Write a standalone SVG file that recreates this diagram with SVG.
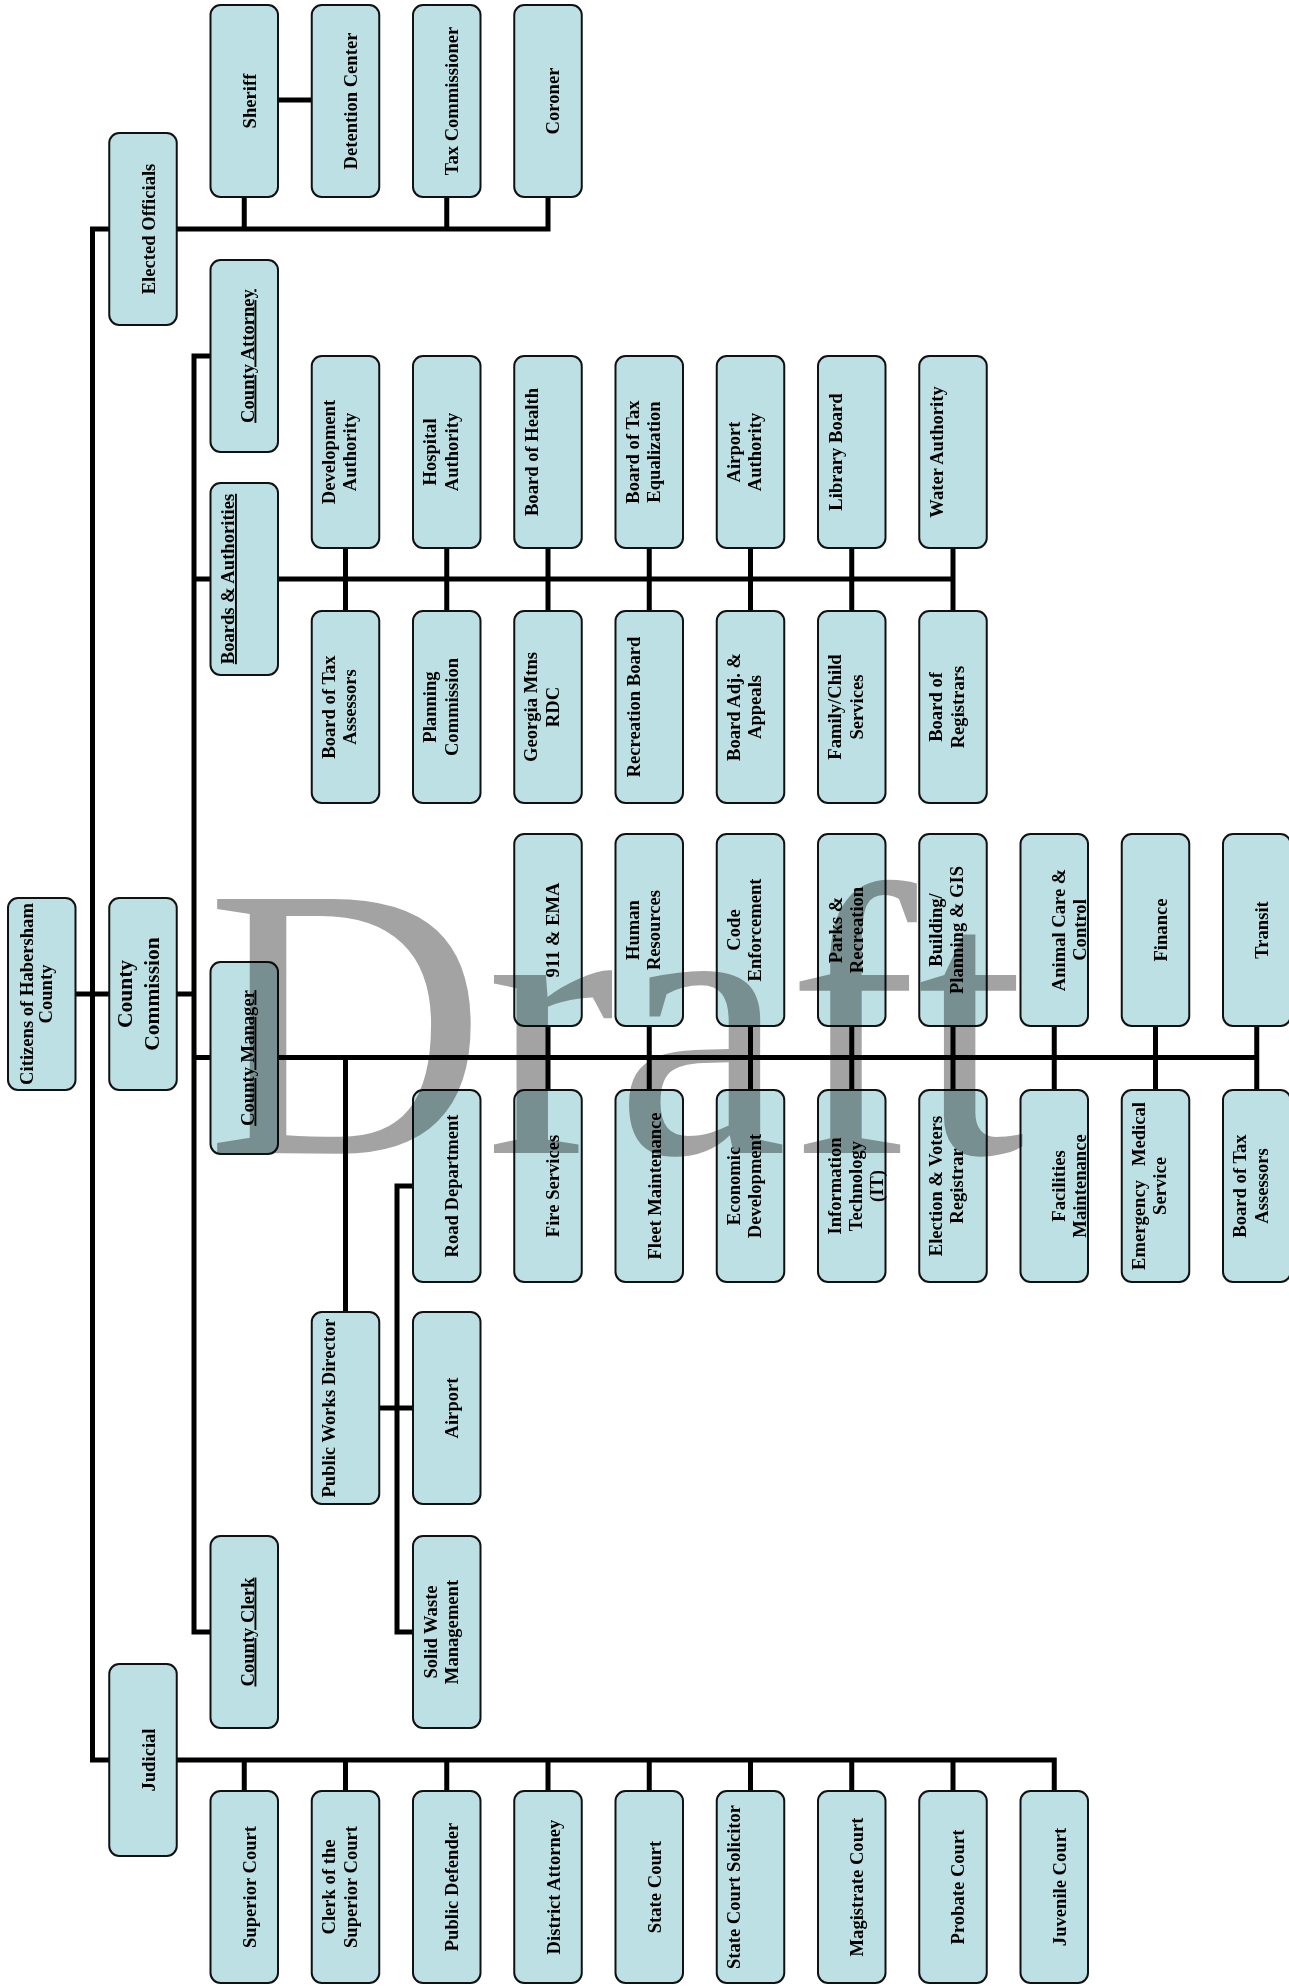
<svg xmlns="http://www.w3.org/2000/svg" width="1289" height="1986" viewBox="0 0 1289 1986">
<style>
.box{fill:#bce0e3;stroke:#111;stroke-width:2}
.t{font-family:"Liberation Serif","Times New Roman",serif;font-weight:bold;font-size:18.6px;text-anchor:middle;fill:#000}
.u{text-decoration:underline}
.ln{fill:none;stroke:#000;stroke-width:5;stroke-linejoin:miter;stroke-linecap:butt}
.wm{font-family:"Liberation Serif","Times New Roman",serif;font-size:388px;fill:#a3a3a3;mix-blend-mode:multiply}
</style>
<rect width="1289" height="1986" fill="#fff"/>
<g id="connectors">
<path class="ln" d="M548 197V229H92.5V1760H1054.25V1791"/>
<path class="ln" d="M244.25 197V229M446.75 197V229"/>
<path class="ln" d="M278 100H311.75"/>
<path class="ln" d="M75.5 994H109.25M176.75 994H194"/>
<path class="ln" d="M210.5 356H194V1632H210.5"/>
<path class="ln" d="M194 579H953"/>
<path class="ln" d="M345.5 548V611M446.75 548V611M548 548V611M649.25 548V611M750.5 548V611M851.75 548V611M953 548V611"/>
<path class="ln" d="M194 1057.5H1256.75"/>
<path class="ln" d="M548 1026V1090M649.25 1026V1090M750.5 1026V1090M851.75 1026V1090M953 1026V1090M1054.25 1026V1090M1155.5 1026V1090M1256.75 1026V1090"/>
<path class="ln" d="M345.5 1057.5V1312"/>
<path class="ln" d="M379.25 1408H413M413 1186H397V1632H413"/>
<path class="ln" d="M244.25 1760V1791M345.5 1760V1791M446.75 1760V1791M548 1760V1791M649.25 1760V1791M750.5 1760V1791M851.75 1760V1791M953 1760V1791"/>
</g>
<g id="citizens"><rect class="box" x="8" y="898" width="67.5" height="192" rx="10"/><text class="t" transform="translate(33.3,994) rotate(-90)">Citizens of Habersham<tspan x="0" dy="18.3">County</tspan></text></g>
<g id="elected-officials"><rect class="box" x="109.25" y="133" width="67.5" height="192" rx="10"/><text class="t" transform="translate(154.75,229) rotate(-90)">Elected Officials</text></g>
<g id="county-commission"><rect class="box" x="109.25" y="898" width="67.5" height="192" rx="10"/><text class="t" style="font-size:21.5px" transform="translate(132.25,994) rotate(-90)">County<tspan x="0" dy="27">Commission</tspan></text></g>
<g id="judicial"><rect class="box" x="109.25" y="1664" width="67.5" height="192" rx="10"/><text class="t" transform="translate(154.75,1760) rotate(-90)">Judicial</text></g>
<g id="sheriff"><rect class="box" x="210.5" y="5" width="67.5" height="192" rx="10"/><text class="t" transform="translate(255.5,101) rotate(-90)">Sheriff</text></g>
<g id="detention-center"><rect class="box" x="311.75" y="5" width="67.5" height="192" rx="10"/><text class="t" transform="translate(356.75,101) rotate(-90)">Detention Center</text></g>
<g id="tax-commissioner"><rect class="box" x="413" y="5" width="67.5" height="192" rx="10"/><text class="t" transform="translate(458,101) rotate(-90)">Tax Commissioner</text></g>
<g id="coroner"><rect class="box" x="514.25" y="5" width="67.5" height="192" rx="10"/><text class="t" transform="translate(559.25,101) rotate(-90)">Coroner</text></g>
<g id="county-attorney"><rect class="box" x="210.5" y="260" width="67.5" height="192" rx="10"/><text class="t u" transform="translate(253.5,356) rotate(-90)">County Attorney</text></g>
<g id="development-authority"><rect class="box" x="311.75" y="356" width="67.5" height="192" rx="10"/><text class="t" transform="translate(334.75,452) rotate(-90)">Development<tspan x="0" dy="21.5">Authority</tspan></text></g>
<g id="hospital-authority"><rect class="box" x="413" y="356" width="67.5" height="192" rx="10"/><text class="t" transform="translate(436,452) rotate(-90)">Hospital<tspan x="0" dy="21.5">Authority</tspan></text></g>
<g id="board-of-health"><rect class="box" x="514.25" y="356" width="67.5" height="192" rx="10"/><text class="t" transform="translate(538.25,452) rotate(-90)">Board of Health</text></g>
<g id="board-of-tax-equalization"><rect class="box" x="615.5" y="356" width="67.5" height="192" rx="10"/><text class="t" transform="translate(638.5,452) rotate(-90)">Board of Tax<tspan x="0" dy="21.5">Equalization</tspan></text></g>
<g id="airport-authority"><rect class="box" x="716.75" y="356" width="67.5" height="192" rx="10"/><text class="t" transform="translate(739.75,452) rotate(-90)">Airport<tspan x="0" dy="21.5">Authority</tspan></text></g>
<g id="library-board"><rect class="box" x="818" y="356" width="67.5" height="192" rx="10"/><text class="t" transform="translate(842,452) rotate(-90)">Library Board</text></g>
<g id="water-authority"><rect class="box" x="919.25" y="356" width="67.5" height="192" rx="10"/><text class="t" transform="translate(943.25,452) rotate(-90)">Water Authority</text></g>
<g id="boards-authorities"><rect class="box" x="210.5" y="483" width="67.5" height="192" rx="10"/><text class="t u" transform="translate(234,579) rotate(-90)">Boards &amp; Authorities</text></g>
<g id="board-of-tax-assessors-1"><rect class="box" x="311.75" y="611" width="67.5" height="192" rx="10"/><text class="t" transform="translate(334.75,707) rotate(-90)">Board of Tax<tspan x="0" dy="21.5">Assessors</tspan></text></g>
<g id="planning-commission"><rect class="box" x="413" y="611" width="67.5" height="192" rx="10"/><text class="t" transform="translate(436,707) rotate(-90)">Planning<tspan x="0" dy="21.5">Commission</tspan></text></g>
<g id="georgia-mtns-rdc"><rect class="box" x="514.25" y="611" width="67.5" height="192" rx="10"/><text class="t" transform="translate(537.25,707) rotate(-90)">Georgia Mtns<tspan x="0" dy="21.5">RDC</tspan></text></g>
<g id="recreation-board"><rect class="box" x="615.5" y="611" width="67.5" height="192" rx="10"/><text class="t" transform="translate(639.5,707) rotate(-90)">Recreation Board</text></g>
<g id="board-adj-appeals"><rect class="box" x="716.75" y="611" width="67.5" height="192" rx="10"/><text class="t" transform="translate(739.75,707) rotate(-90)">Board Adj. &amp;<tspan x="0" dy="21.5">Appeals</tspan></text></g>
<g id="family-child-services"><rect class="box" x="818" y="611" width="67.5" height="192" rx="10"/><text class="t" transform="translate(841,707) rotate(-90)">Family/Child<tspan x="0" dy="21.5">Services</tspan></text></g>
<g id="board-of-registrars"><rect class="box" x="919.25" y="611" width="67.5" height="192" rx="10"/><text class="t" transform="translate(942.25,707) rotate(-90)">Board of<tspan x="0" dy="21.5">Registrars</tspan></text></g>
<g id="911-ema"><rect class="box" x="514.25" y="834" width="67.5" height="192" rx="10"/><text class="t" transform="translate(559.25,930) rotate(-90)">911 &amp; EMA</text></g>
<g id="human-resources"><rect class="box" x="615.5" y="834" width="67.5" height="192" rx="10"/><text class="t" transform="translate(638.5,930) rotate(-90)">Human<tspan x="0" dy="21.5">Resources</tspan></text></g>
<g id="code-enforcement"><rect class="box" x="716.75" y="834" width="67.5" height="192" rx="10"/><text class="t" transform="translate(739.75,930) rotate(-90)">Code<tspan x="0" dy="21.5">Enforcement</tspan></text></g>
<g id="parks-recreation"><rect class="box" x="818" y="834" width="67.5" height="192" rx="10"/><text class="t" transform="translate(841.5,930) rotate(-90)">Parks &amp;<tspan x="0" dy="21.5">Recreation</tspan></text></g>
<g id="building-planning-gis"><rect class="box" x="919.25" y="834" width="67.5" height="192" rx="10"/><text class="t" transform="translate(941.75,930) rotate(-90)">Building/<tspan x="0" dy="21.5">Planning &amp; GIS</tspan></text></g>
<g id="animal-care-control"><rect class="box" x="1020.5" y="834" width="67.5" height="192" rx="10"/><text class="t" transform="translate(1065,930) rotate(-90)">Animal Care &amp;<tspan x="0" dy="20.5">Control</tspan></text></g>
<g id="finance"><rect class="box" x="1121.75" y="834" width="67.5" height="192" rx="10"/><text class="t" transform="translate(1166.75,930) rotate(-90)">Finance</text></g>
<g id="transit"><rect class="box" x="1223" y="834" width="67.5" height="192" rx="10"/><text class="t" transform="translate(1268,930) rotate(-90)">Transit</text></g>
<g id="county-manager"><rect class="box" x="210.5" y="962" width="67.5" height="192" rx="10"/><text class="t u" transform="translate(253.5,1058) rotate(-90)">County Manager</text></g>
<g id="road-department"><rect class="box" x="413" y="1090" width="67.5" height="192" rx="10"/><text class="t" transform="translate(458,1186) rotate(-90)">Road Department</text></g>
<g id="fire-services"><rect class="box" x="514.25" y="1090" width="67.5" height="192" rx="10"/><text class="t" transform="translate(559.25,1186) rotate(-90)">Fire Services</text></g>
<g id="fleet-maintenance"><rect class="box" x="615.5" y="1090" width="67.5" height="192" rx="10"/><text class="t" transform="translate(660.5,1186) rotate(-90)">Fleet Maintenance</text></g>
<g id="economic-development"><rect class="box" x="716.75" y="1090" width="67.5" height="192" rx="10"/><text class="t" transform="translate(739.75,1186) rotate(-90)">Economic<tspan x="0" dy="21.5">Development</tspan></text></g>
<g id="information-technology"><rect class="box" x="818" y="1090" width="67.5" height="192" rx="10"/><text class="t" transform="translate(840.5,1186) rotate(-90)">Information<tspan x="0" dy="21.5">Technology</tspan><tspan x="0" dy="21">(IT)</tspan></text></g>
<g id="election-voters-registrar"><rect class="box" x="919.25" y="1090" width="67.5" height="192" rx="10"/><text class="t" transform="translate(941.75,1186) rotate(-90)">Election &amp; Voters<tspan x="0" dy="21.5">Registrar</tspan></text></g>
<g id="facilities-maintenance"><rect class="box" x="1020.5" y="1090" width="67.5" height="192" rx="10"/><text class="t" transform="translate(1065,1186) rotate(-90)">Facilities<tspan x="0" dy="20.5">Maintenance</tspan></text></g>
<g id="emergency-medical-service"><rect class="box" x="1121.75" y="1090" width="67.5" height="192" rx="10"/><text class="t" xml:space="preserve" transform="translate(1144.75,1186) rotate(-90)">Emergency   Medical<tspan x="0" dy="21.5">Service</tspan></text></g>
<g id="board-of-tax-assessors-2"><rect class="box" x="1223" y="1090" width="67.5" height="192" rx="10"/><text class="t" transform="translate(1246,1186) rotate(-90)">Board of Tax<tspan x="0" dy="21.5">Assessors</tspan></text></g>
<g id="public-works-director"><rect class="box" x="311.75" y="1312" width="67.5" height="192" rx="10"/><text class="t" transform="translate(335.25,1408) rotate(-90)">Public Works Director</text></g>
<g id="airport"><rect class="box" x="413" y="1312" width="67.5" height="192" rx="10"/><text class="t" transform="translate(458,1408) rotate(-90)">Airport</text></g>
<g id="county-clerk"><rect class="box" x="210.5" y="1536" width="67.5" height="192" rx="10"/><text class="t u" transform="translate(253.5,1632) rotate(-90)">County Clerk</text></g>
<g id="solid-waste-management"><rect class="box" x="413" y="1536" width="67.5" height="192" rx="10"/><text class="t" transform="translate(436.5,1632) rotate(-90)">Solid Waste<tspan x="0" dy="21">Management</tspan></text></g>
<g id="superior-court"><rect class="box" x="210.5" y="1791" width="67.5" height="192" rx="10"/><text class="t" transform="translate(255.5,1887) rotate(-90)">Superior Court</text></g>
<g id="clerk-superior-court"><rect class="box" x="311.75" y="1791" width="67.5" height="192" rx="10"/><text class="t" transform="translate(335.25,1887) rotate(-90)">Clerk of the<tspan x="0" dy="21.5">Superior Court</tspan></text></g>
<g id="public-defender"><rect class="box" x="413" y="1791" width="67.5" height="192" rx="10"/><text class="t" transform="translate(458,1887) rotate(-90)">Public Defender</text></g>
<g id="district-attorney"><rect class="box" x="514.25" y="1791" width="67.5" height="192" rx="10"/><text class="t" transform="translate(559.75,1887) rotate(-90)">District Attorney</text></g>
<g id="state-court"><rect class="box" x="615.5" y="1791" width="67.5" height="192" rx="10"/><text class="t" transform="translate(661,1887) rotate(-90)">State Court</text></g>
<g id="state-court-solicitor"><rect class="box" x="716.75" y="1791" width="67.5" height="192" rx="10"/><text class="t" transform="translate(740,1887) rotate(-90)">State Court Solicitor</text></g>
<g id="magistrate-court"><rect class="box" x="818" y="1791" width="67.5" height="192" rx="10"/><text class="t" transform="translate(863,1887) rotate(-90)">Magistrate Court</text></g>
<g id="probate-court"><rect class="box" x="919.25" y="1791" width="67.5" height="192" rx="10"/><text class="t" transform="translate(964.25,1887) rotate(-90)">Probate Court</text></g>
<g id="juvenile-court"><rect class="box" x="1020.5" y="1791" width="67.5" height="192" rx="10"/><text class="t" transform="translate(1065.5,1887) rotate(-90)">Juvenile Court</text></g>
<g id="watermark"><text class="wm" x="206" y="1153">Draft</text></g>
</svg>
